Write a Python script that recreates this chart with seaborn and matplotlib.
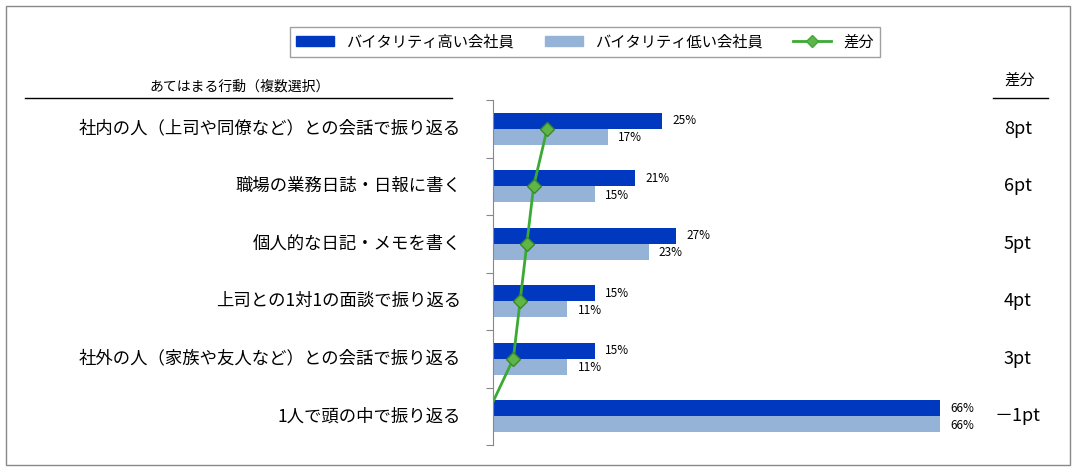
import matplotlib
matplotlib.use("Agg")
import matplotlib.pyplot as plt
import seaborn as sns
import pandas as pd
from matplotlib.patches import Rectangle
from matplotlib.lines import Line2D

plt.rcParams["font.family"] = ["Noto Sans CJK JP", "DejaVu Sans"]

categories = ["社内の人（上司や同僚など）との会話で振り返る", "職場の業務日誌・日報に書く", "個人的な日記・メモを書く",
              "上司との1対1の面談で振り返る", "社外の人（家族や友人など）との会話で振り返る", "1人で頭の中で振り返る"]
high = [25, 21, 27, 15, 15, 66]
low = [17, 15, 23, 11, 11, 66]
diff = [8, 6, 5, 4, 3, -1]
diff_labels = ["8pt", "6pt", "5pt", "4pt", "3pt", "－1pt"]
series = ["バイタリティ高い会社員", "バイタリティ低い会社員"]

df = pd.DataFrame({"cat": categories * 2, "val": high + low,
                   "grp": [series[0]] * 6 + [series[1]] * 6})

W, H = 1076, 471
fig = plt.figure(figsize=(W / 100, H / 100), dpi=100)
fig.patches.append(Rectangle((6 / W, 6 / H), 1 - 12 / W, 1 - 12 / H, transform=fig.transFigure,
                             fill=False, edgecolor="#888888", lw=1))
ax = fig.add_axes([493 / W, 26 / H, 474 / W, 345 / H])
sns.barplot(data=df, y="cat", x="val", hue="grp", orient="h", palette=["#0038C0", "#95B3D7"],
            width=0.56, ax=ax, legend=False, saturation=1)
ax.set_xlim(0, 70)
ax.set_ylim(5.5, -0.5)
ax.plot(diff, range(6), color="#3AAA35", lw=2, marker="D", markersize=7,
        markerfacecolor="#5FB547", markeredgecolor="#3A8A2A")
for i, (h, l) in enumerate(zip(high, low)):
    ax.text(h + 1.5, i - 0.14, f"{h}%", va="center", ha="left", fontsize=8.5)
    ax.text(l + 1.5, i + 0.16, f"{l}%", va="center", ha="left", fontsize=8.5)
    ax.text(-4.7, i, categories[i], va="center", ha="right", fontsize=12.5)
    ax.text(77.5, i, diff_labels[i], va="center", ha="center", fontsize=13)
ax.set_yticks([k - 0.5 for k in range(7)])
ax.set_yticklabels([])
ax.tick_params(axis="y", length=5, color="#888888", direction="out")
ax.set_xticks([])
ax.set_xlabel(""); ax.set_ylabel("")
for s in ["top", "right", "bottom"]:
    ax.spines[s].set_visible(False)
ax.spines["left"].set_color("#888888")

fig.text(240 / W, 1 - 87 / H, "あてはまる行動（複数選択）", ha="center", va="center", fontsize=10)
fig.add_artist(Line2D([25 / W, 452 / W], [1 - 98 / H] * 2, color="black", lw=1))
fig.text(1020 / W, 1 - 80 / H, "差分", ha="center", va="center", fontsize=11)
fig.add_artist(Line2D([993 / W, 1048 / W], [1 - 98 / H] * 2, color="black", lw=1))

handles = [Rectangle((0, 0), 1, 1, color="#0038C0"), Rectangle((0, 0), 1, 1, color="#95B3D7"),
           Line2D([], [], color="#3AAA35", lw=2, marker="D", markersize=6, markerfacecolor="#5FB547")]
leg = fig.legend(handles, series + ["差分"], loc="center", bbox_to_anchor=(585 / W, 1 - 42 / H),
                 ncol=3, frameon=True, fontsize=11, fancybox=False, edgecolor="#888888",
                 handlelength=2.5, columnspacing=2, handleheight=0.6)
fig.savefig("out.png", dpi=100)
